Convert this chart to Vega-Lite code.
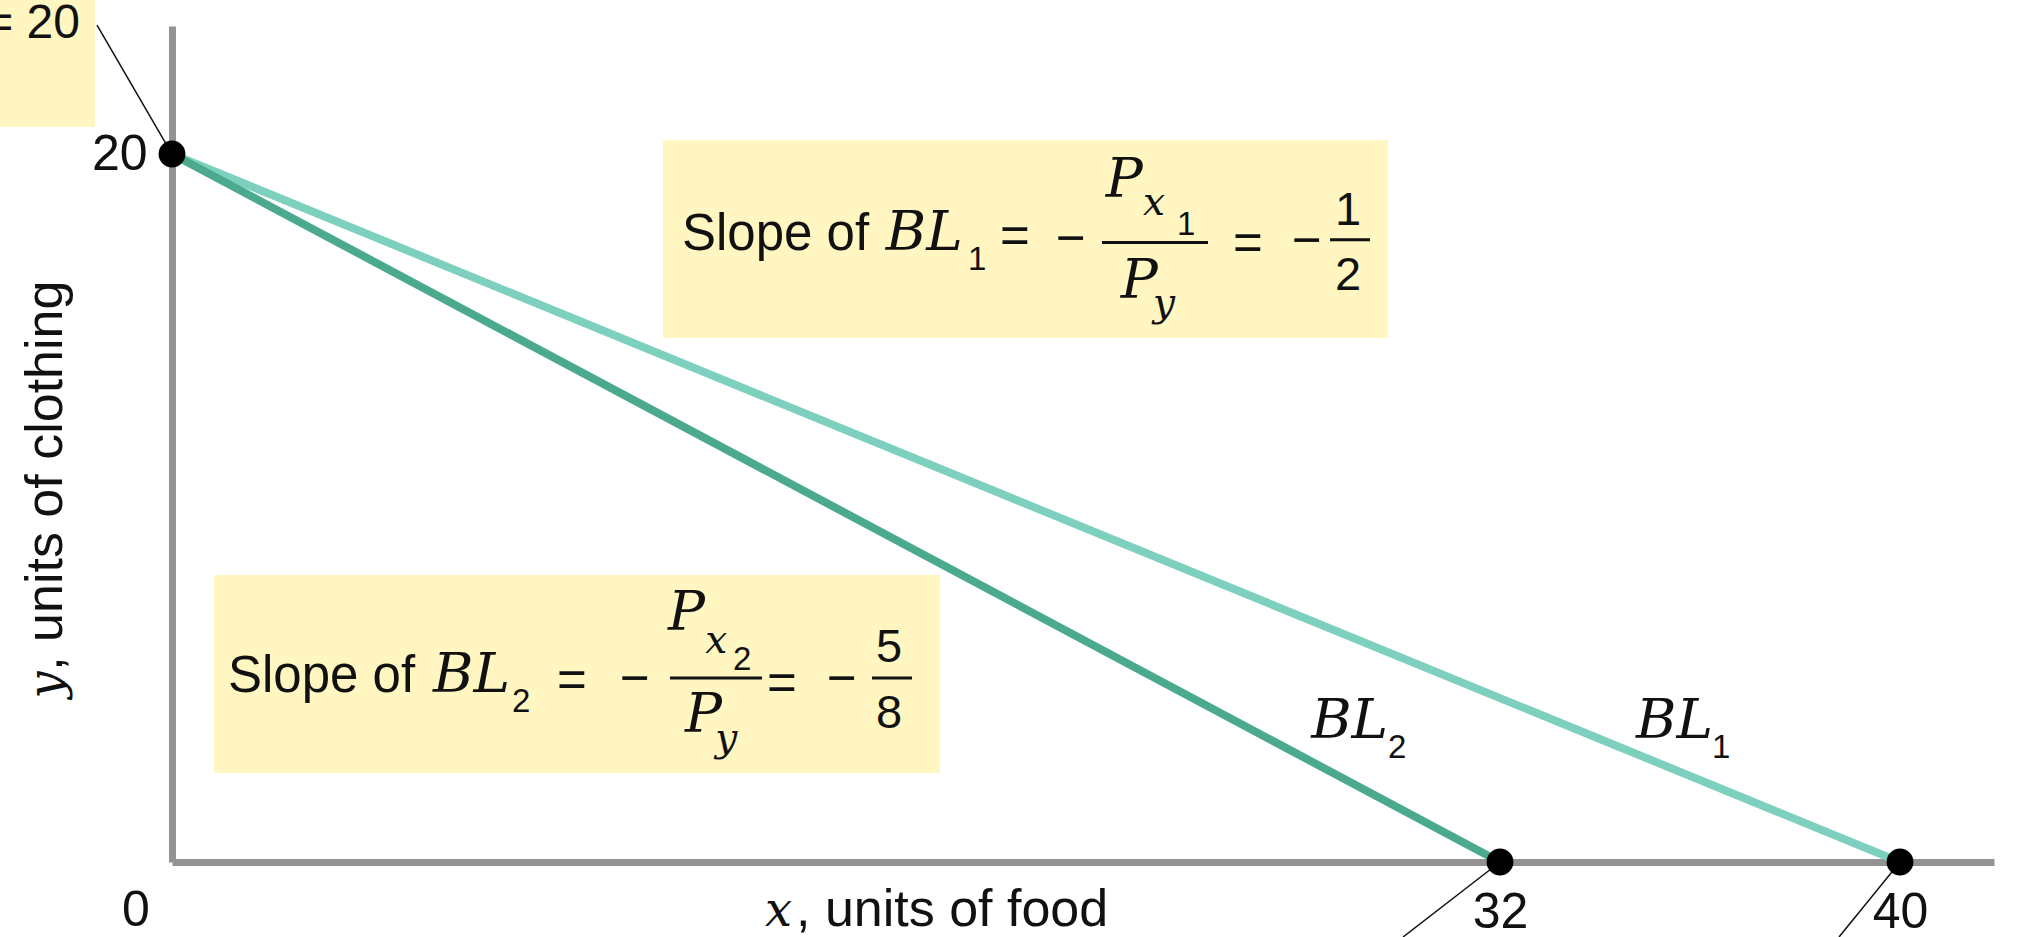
{
  "$schema": "https://vega.github.io/schema/vega-lite/v6.json",
  "width": 1822,
  "height": 836,
  "autosize": {"type": "none"},
  "padding": {"left": 172, "top": 26, "right": 30, "bottom": 75},
  "background": "white",
  "config": {"view": {"stroke": null}, "font": "Liberation Sans",
    "axis": {"grid": false, "ticks": false, "tickSize": 0, "labelFontSize": 50, "labelFont": "Liberation Sans", "labelColor": "#111",
      "labelPadding": 25, "domainColor": "#939393", "domainWidth": 7, "labelFlush": false, "labelOverlap": false}},
  "layer": [
    {
      "data": {"values": [
        {"x": -4.145, "x2": -1.855, "y": 24.35, "y2": 20.763},
        {"x": 11.831, "x2": 29.301, "y": 20.395, "y2": 14.802},
        {"x": 1.012, "x2": 18.506, "y": 8.107, "y2": 2.514}
      ]},
      "mark": {"type": "rect", "color": "#fff6c2"},
      "encoding": {
        "x": {"field": "x", "type": "quantitative",
          "scale": {"domain": [0, 32, 40, 41.88], "range": [0, 1328, 1728, 1822], "nice": false, "zero": false},
          "axis": {"values": [32, 40], "title": null}},
        "x2": {"field": "x2"},
        "y": {"field": "y", "type": "quantitative",
          "scale": {"domain": [0, 23.616], "nice": false, "zero": false},
          "axis": {"values": [20], "title": null}},
        "y2": {"field": "y2"}
      }
    },
    {
      "data": {"values": [{"x": 0, "y": 20}, {"x": 40, "y": 0}]},
      "mark": {"type": "line", "color": "#7dcfbe", "strokeWidth": 8},
      "encoding": {
        "x": {"field": "x", "type": "quantitative"},
        "y": {"field": "y", "type": "quantitative"}
      }
    },
    {
      "data": {"values": [{"x": 0, "y": 20}, {"x": 32, "y": 0}]},
      "mark": {"type": "line", "color": "#4baa8d", "strokeWidth": 8},
      "encoding": {
        "x": {"field": "x", "type": "quantitative"},
        "y": {"field": "y", "type": "quantitative"}
      }
    },
    {
      "data": {"values": [
        {"x": -1.807, "y": 23.644, "x2": 0, "y2": 20},
        {"x": 32, "y": 0, "x2": 29.663, "y2": -2.119},
        {"x": 40, "y": 0, "x2": 38.78, "y2": -2.119}
      ]},
      "mark": {"type": "rule", "color": "#111", "strokeWidth": 1.5},
      "encoding": {
        "x": {"field": "x", "type": "quantitative"},
        "y": {"field": "y", "type": "quantitative"},
        "x2": {"field": "x2"},
        "y2": {"field": "y2"}
      }
    },
    {
      "data": {"values": [
        {"x": 22.410, "x2": 24.964, "y": 17.50},
        {"x": 27.904, "x2": 28.867, "y": 17.58},
        {"x": 12.000, "x2": 14.217, "y": 5.198},
        {"x": 16.867, "x2": 17.831, "y": 5.198}
      ]},
      "mark": {"type": "rule", "color": "#111", "strokeWidth": 3},
      "encoding": {
        "x": {"field": "x", "type": "quantitative"},
        "x2": {"field": "x2"},
        "y": {"field": "y", "type": "quantitative"}
      }
    },
    {
      "data": {"values": [{"x": 0, "y": 20}, {"x": 32, "y": 0}, {"x": 40, "y": 0}]},
      "mark": {"type": "point", "filled": true, "color": "#000", "opacity": 1, "size": 720},
      "encoding": {
        "x": {"field": "x", "type": "quantitative"},
        "y": {"field": "y", "type": "quantitative"}
      }
    },
    {
      "data": {"values": [
        {"x": 12.289, "y": 17.288, "t": "Slope of"},
        {"x": 19.952, "y": 17.20, "t": "="},
        {"x": 21.301, "y": 17.15, "t": "−"},
        {"x": 25.566, "y": 17.01, "t": "="},
        {"x": 26.988, "y": 17.09, "t": "−"},
        {"x": 1.349, "y": 4.802, "t": "Slope of"},
        {"x": 9.277, "y": 4.661, "t": "="},
        {"x": 10.795, "y": 4.718, "t": "−"},
        {"x": 14.337, "y": 4.576, "t": "="},
        {"x": 15.783, "y": 4.718, "t": "−"}
      ]},
      "mark": {"type": "text", "font": "Liberation Sans", "fontSize": 51, "align": "left", "baseline": "alphabetic", "color": "#111"},
      "encoding": {
        "x": {"field": "x", "type": "quantitative"},
        "y": {"field": "y", "type": "quantitative"},
        "text": {"field": "t"}
      }
    },
    {
      "data": {"values": [
        {"x": 17.20, "y": 17.288, "t": "BL"},
        {"x": 22.50, "y": 18.785, "t": "P"},
        {"x": 22.86, "y": 15.932, "t": "P"},
        {"x": 6.29, "y": 4.802, "t": "BL"},
        {"x": 11.95, "y": 6.554, "t": "P"},
        {"x": 12.36, "y": 3.672, "t": "P"},
        {"x": 27.45, "y": 3.503, "t": "BL"},
        {"x": 34.72, "y": 3.503, "t": "BL"}
      ]},
      "mark": {"type": "text", "font": "DejaVu Serif", "fontStyle": "italic", "fontSize": 55, "align": "left", "baseline": "alphabetic", "color": "#111"},
      "encoding": {
        "x": {"field": "x", "type": "quantitative"},
        "y": {"field": "y", "type": "quantitative"},
        "text": {"field": "t"}
      }
    },
    {
      "data": {"values": [
        {"x": 23.40, "y": 18.277, "t": "x"},
        {"x": 23.64, "y": 15.424, "t": "y"},
        {"x": 12.85, "y": 5.904, "t": "x"},
        {"x": 13.09, "y": 3.136, "t": "y"}
      ]},
      "mark": {"type": "text", "font": "DejaVu Serif", "fontStyle": "italic", "fontSize": 39, "align": "left", "baseline": "alphabetic", "color": "#111"},
      "encoding": {
        "x": {"field": "x", "type": "quantitative"},
        "y": {"field": "y", "type": "quantitative"},
        "text": {"field": "t"}
      }
    },
    {
      "data": {"values": [
        {"x": 19.181, "y": 16.723, "t": "1"},
        {"x": 24.217, "y": 17.712, "t": "1"},
        {"x": 8.193, "y": 4.237, "t": "2"},
        {"x": 13.518, "y": 5.424, "t": "2"},
        {"x": 29.301, "y": 2.938, "t": "2"},
        {"x": 36.24, "y": 2.938, "t": "1"}
      ]},
      "mark": {"type": "text", "font": "Liberation Sans", "fontSize": 33, "align": "left", "baseline": "alphabetic", "color": "#111"},
      "encoding": {
        "x": {"field": "x", "type": "quantitative"},
        "y": {"field": "y", "type": "quantitative"},
        "text": {"field": "t"}
      }
    },
    {
      "data": {"values": [
        {"x": 28.337, "y": 18.00, "t": "1"},
        {"x": 28.337, "y": 16.158, "t": "2"},
        {"x": 17.277, "y": 5.650, "t": "5"},
        {"x": 17.277, "y": 3.785, "t": "8"}
      ]},
      "mark": {"type": "text", "font": "Liberation Sans", "fontSize": 47, "align": "center", "baseline": "alphabetic", "color": "#111"},
      "encoding": {
        "x": {"field": "x", "type": "quantitative"},
        "y": {"field": "y", "type": "quantitative"},
        "text": {"field": "t"}
      }
    },
    {
      "data": {"values": [{"x": -0.867, "y": -1.808, "t": "0"}]},
      "mark": {"type": "text", "font": "Liberation Sans", "fontSize": 50, "align": "center", "baseline": "alphabetic", "color": "#111"},
      "encoding": {
        "x": {"field": "x", "type": "quantitative"},
        "y": {"field": "y", "type": "quantitative"},
        "text": {"field": "t"}
      }
    },
    {
      "data": {"values": [{"x": -2.217, "y": 23.277, "t": "= 20"}]},
      "mark": {"type": "text", "font": "Liberation Sans", "fontSize": 48, "align": "right", "baseline": "alphabetic", "color": "#111"},
      "encoding": {
        "x": {"field": "x", "type": "quantitative"},
        "y": {"field": "y", "type": "quantitative"},
        "text": {"field": "t"}
      }
    },
    {
      "data": {"values": [{"x": 15.036, "y": -1.808, "t": ", units of food"}]},
      "mark": {"type": "text", "font": "Liberation Sans", "fontSize": 52, "align": "left", "baseline": "alphabetic", "color": "#111"},
      "encoding": {
        "x": {"field": "x", "type": "quantitative"},
        "y": {"field": "y", "type": "quantitative"},
        "text": {"field": "t"}
      }
    },
    {
      "data": {"values": [{"x": 14.29, "y": -1.808, "t": "x"}]},
      "mark": {"type": "text", "font": "DejaVu Serif", "fontStyle": "italic", "fontSize": 48, "align": "left", "baseline": "alphabetic", "color": "#111"},
      "encoding": {
        "x": {"field": "x", "type": "quantitative"},
        "y": {"field": "y", "type": "quantitative"},
        "text": {"field": "t"}
      }
    },
    {
      "data": {"values": [{"x": -2.651, "y": 5.40, "t": ", units of clothing"}]},
      "mark": {"type": "text", "font": "Liberation Sans", "fontSize": 52, "align": "left", "baseline": "alphabetic", "angle": 270, "color": "#111"},
      "encoding": {
        "x": {"field": "x", "type": "quantitative"},
        "y": {"field": "y", "type": "quantitative"},
        "text": {"field": "t"}
      }
    },
    {
      "data": {"values": [{"x": -2.651, "y": 4.62, "t": "y"}]},
      "mark": {"type": "text", "font": "DejaVu Serif", "fontStyle": "italic", "fontSize": 48, "align": "left", "baseline": "alphabetic", "angle": 270, "color": "#111"},
      "encoding": {
        "x": {"field": "x", "type": "quantitative"},
        "y": {"field": "y", "type": "quantitative"},
        "text": {"field": "t"}
      }
    }
  ]
}
